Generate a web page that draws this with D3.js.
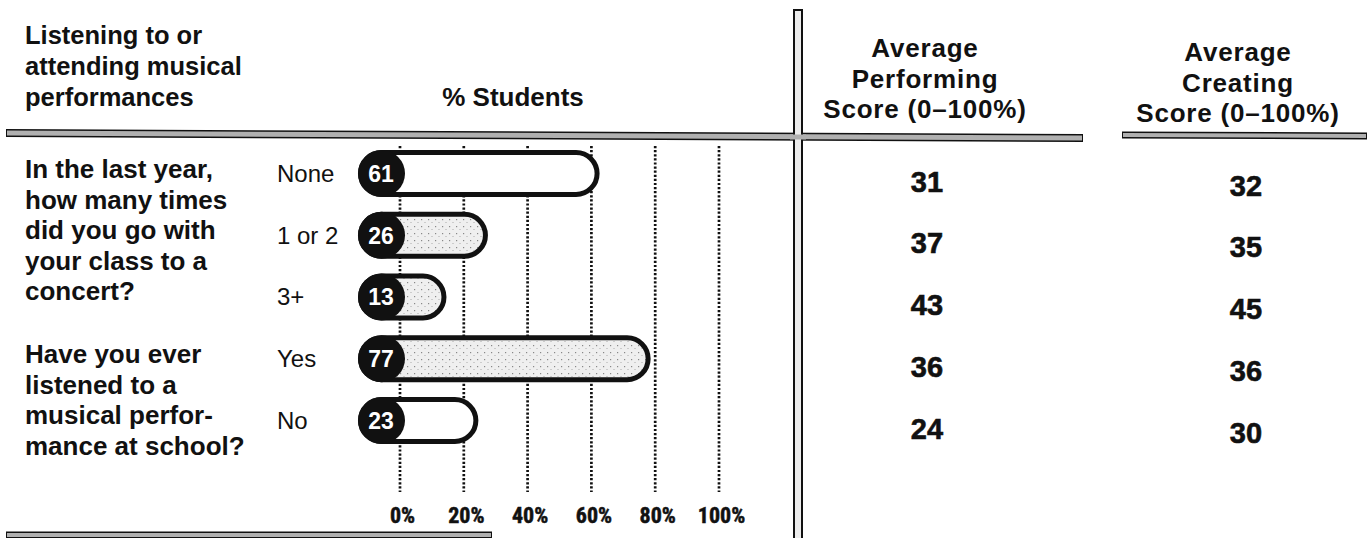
<!DOCTYPE html>
<html>
<head>
<meta charset="utf-8">
<script src="https://cdn.jsdelivr.net/npm/d3@7/dist/d3.min.js"></script>
<style>
  html, body { margin: 0; padding: 0; background: #fff; }
  svg { display: block; }
</style>
</head>
<body>
<svg id="chart" width="1367" height="538"></svg>
<script>
// ---------------- DATA ----------------
const categories = ["None", "1 or 2", "3+", "Yes", "No"];
const pctStudents = [61, 26, 13, 77, 23];
const perfScores = [31, 37, 43, 36, 24];
const createScores = [32, 35, 45, 36, 30];
const tickValues = [0, 20, 40, 60, 80, 100];
const tickLabels = ["0%", "20%", "40%", "60%", "80%", "100%"];
const headerLines = ["Listening to or", "attending musical", "performances"];
const axisTitle = "% Students";
const perfHeader = ["Average", "Performing", "Score (0\u2013100%)"];
const createHeader = ["Average", "Creating", "Score (0\u2013100%)"];
const question1 = ["In the last year,", "how many times", "did you go with", "your class to a", "concert?"];
const question2 = ["Have you ever", "listened to a", "musical perfor-", "mance at school?"];
const questionStarts = ["None", "Yes"];
const shadedCats = ["1 or 2", "3+", "Yes"];

// ---------------- DRAW ----------------
const svg = d3.select("#chart");
const SANS = "'Liberation Sans', Arial, sans-serif";

const x = d3.scaleLinear().domain([0, 100]).range([400, 719]);
const y = d3.scalePoint().domain(categories).range([173.5, 420.5]);
const rows = categories.map((c, i) => ({cat: c, pct: pctStudents[i], perf: perfScores[i], cre: createScores[i]}));

// speckle pattern for shaded bars
const defs = svg.append("defs");
const pat = defs.append("pattern").attr("id", "speck").attr("patternUnits", "userSpaceOnUse")
  .attr("width", 7).attr("height", 7);
pat.append("rect").attr("width", 7).attr("height", 7).attr("fill", "#efefef");
pat.append("rect").attr("x", 1).attr("y", 2).attr("width", 1.2).attr("height", 1.2).attr("fill", "#888");
pat.append("rect").attr("x", 4.5).attr("y", 5).attr("width", 1).attr("height", 1).attr("fill", "#aaa");

// rules / dividers
function rule(x1, y1, x2, y2, w) {
  svg.append("line").attr("x1", x1).attr("y1", y1).attr("x2", x2).attr("y2", y2)
    .attr("stroke", "#111").attr("stroke-width", w);
  svg.append("line").attr("x1", x1 + 1).attr("y1", y1).attr("x2", x2 - 1).attr("y2", y2)
    .attr("stroke", "#b0b0b0").attr("stroke-width", w - 3);
}
rule(6, 133, 1083, 138, 8);     // left + performing header rule
rule(1122, 135, 1367, 136, 7);  // creating header rule
rule(6, 535, 492, 535, 7);      // bottom rule

// vertical divider (double line)
svg.append("rect").attr("x", 794).attr("y", 10).attr("width", 8).attr("height", 540)
  .attr("fill", "#ececec").attr("stroke", "#111").attr("stroke-width", 2);
svg.append("line").attr("x1", 790).attr("x2", 806).attr("y1", 137).attr("y2", 137)
  .attr("stroke", "#b0b0b0").attr("stroke-width", 5);

// left header
svg.append("g").selectAll("text").data(headerLines).join("text")
  .attr("x", 25).attr("y", (d, i) => 44 + i * 31)
  .attr("font-family", SANS).attr("font-weight", 700).attr("font-size", 25.5)
  .attr("fill", "#111").text(d => d);

svg.append("text").attr("x", 513).attr("y", 106).attr("text-anchor", "middle")
  .attr("font-family", SANS).attr("font-weight", 700).attr("font-size", 26)
  .attr("fill", "#111").text(axisTitle);

// right headers
function header(lines, cx, y0) {
  svg.append("g").selectAll("text").data(lines).join("text")
    .attr("x", cx).attr("y", (d, i) => y0 + i * 30.5).attr("text-anchor", "middle")
    .attr("font-family", SANS).attr("font-weight", 700).attr("font-size", 26)
    .attr("letter-spacing", 0.8).attr("fill", "#111").text(d => d);
}
header(perfHeader, 925, 57);
header(createHeader, 1238, 61);

// questions
[question1, question2].forEach((lines, qi) => {
  svg.append("g").selectAll("text").data(lines).join("text")
    .attr("x", 25).attr("y", (d, i) => y(questionStarts[qi]) + 4.5 + i * 30.5)
    .attr("font-family", SANS).attr("font-weight", 700).attr("font-size", 26)
    .attr("fill", "#111").text(d => d);
});

// category labels
svg.append("g").selectAll("text").data(rows).join("text")
  .attr("x", 277).attr("y", d => y(d.cat)).attr("dy", "0.35em")
  .attr("font-family", SANS).attr("font-weight", 400).attr("font-size", 24)
  .attr("fill", "#111").text(d => d.cat);

// dotted gridlines
svg.append("g").selectAll("line").data(tickValues).join("line")
  .attr("x1", d => x(d)).attr("x2", d => x(d)).attr("y1", 146).attr("y2", 492)
  .attr("stroke", "#111").attr("stroke-width", 2.7).attr("stroke-dasharray", "2.2,1.9");

// tick labels via axis
const axis = d3.axisBottom(x).tickValues(tickValues).tickSize(0)
  .tickFormat((d, i) => tickLabels[i]);
const ag = svg.append("g").attr("transform", "translate(2,504)").call(axis);
ag.select(".domain").remove();
ag.selectAll("text")
  .attr("font-family", "'Liberation Sans Narrow', 'Roboto Condensed', 'Noto Sans', sans-serif")
  .attr("font-weight", 700).attr("font-size", 22).attr("fill", "#111").attr("dy", "0.72em")
  .attr("stroke", "#111").attr("stroke-width", 0.5);

// bars
const R = 21;
const bars = svg.append("g").selectAll("g").data(rows).join("g");
bars.append("rect")
  .attr("x", 360.5).attr("y", d => y(d.cat) - R)
  .attr("width", d => x(d.pct) + 2.5 - 360.5).attr("height", 2 * R)
  .attr("rx", R).attr("ry", R)
  .attr("fill", d => shadedCats.includes(d.cat) ? "url(#speck)" : "#ffffff")
  .attr("stroke", "#111").attr("stroke-width", 5);
bars.append("circle").attr("cx", 381.5).attr("cy", d => y(d.cat)).attr("r", 23.5)
  .attr("fill", "#111");
bars.append("text").attr("x", 381).attr("y", d => y(d.cat)).attr("dy", "0.36em")
  .attr("text-anchor", "middle").attr("font-family", SANS).attr("font-weight", 700)
  .attr("font-size", 23).attr("fill", "#fff").text(d => d.pct);

// score columns
svg.append("g").selectAll("text").data(rows).join("text")
  .attr("x", 927).attr("y", d => y(d.cat) + 18).attr("text-anchor", "middle")
  .attr("font-family", SANS).attr("font-weight", 700)
  .attr("font-size", 29).attr("fill", "#111").attr("stroke", "#111").attr("stroke-width", 0.6)
  .text(d => d.perf);
svg.append("g").selectAll("text").data(rows).join("text")
  .attr("x", 1246).attr("y", d => y(d.cat) + 22).attr("text-anchor", "middle")
  .attr("font-family", SANS).attr("font-weight", 700)
  .attr("font-size", 29).attr("fill", "#111").attr("stroke", "#111").attr("stroke-width", 0.6)
  .text(d => d.cre);
</script>
</body>
</html>
